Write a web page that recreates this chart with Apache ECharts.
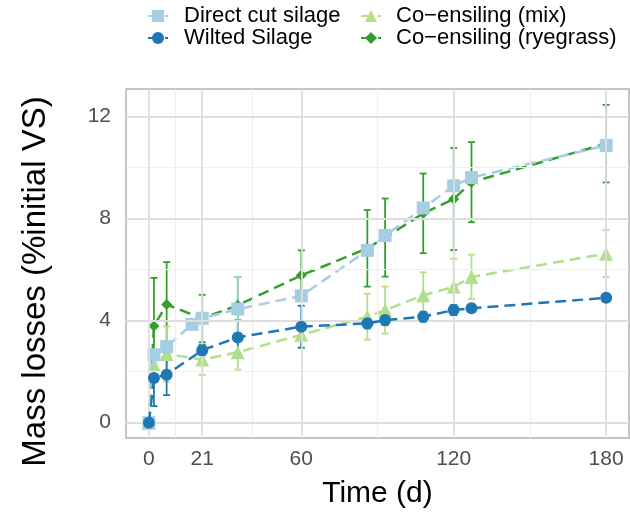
<!DOCTYPE html>
<html><head><meta charset="utf-8">
<script src="https://cdn.jsdelivr.net/npm/echarts@6/dist/echarts.min.js"></script>
<style>html,body{margin:0;padding:0;background:#fff}#c{width:630px;height:514px}</style>
</head><body><div id="c"></div>
<script>
// ---- data ----
const xBreaks = [0, 21, 60, 120, 180];
const xMinor = [10.5, 40.5, 90, 150];
const yBreaks = [0, 4, 8, 12];
const yMinor = [2, 6, 10];

const nameDirect = 'Direct cut silage';
const nameWilted = 'Wilted Silage';
const nameMix = 'Co\u2212ensiling (mix)';
const nameRye = 'Co\u2212ensiling (ryegrass)';

const directTime = [0, 2, 7, 17, 21, 35, 60, 86, 93, 108, 120, 127, 180];
const directVal  = [0, 2.66, 2.98, 3.85, 4.09, 4.45, 4.97, 6.75, 7.33, 8.41, 9.28, 9.6, 10.86];
const directErr  = [0, 0.2, 0.2, 0, 0.15, 1.25, 0.2, 0.2, 0.2, 0.2, 0.2, 0.2, 0.2];

const otherTime = [0, 2, 7, 21, 35, 60, 86, 93, 108, 120, 127, 180];

const wiltedVal = [0, 1.75, 1.88, 2.84, 3.34, 3.76, 3.89, 4.02, 4.15, 4.41, 4.48, 4.89];
const wiltedErr = [0, 1.1, 0.8, 0.2, 0.67, 0.82, 0.2, 0.2, 0.2, 0.2, 0.15, 0.15];

const mixVal = [0, 2.27, 2.69, 2.47, 2.76, 3.44, 4.15, 4.41, 4.99, 5.32, 5.71, 6.62];
const mixErr = [0, 0.4, 1.08, 0.6, 0.68, 0.52, 0.9, 0.92, 0.9, 1.1, 0.87, 0.92];

const ryeVal = [0, 3.79, 4.63, 4.08, 4.6, 5.77, 6.83, 7.25, 8.2, 8.76, 9.42, 10.93];
const ryeErr = [0, 1.88, 1.66, 0.93, 1.1, 0.98, 1.5, 1.53, 1.56, 2.0, 1.57, 1.52];

// ---- styling ----
const FONT = "'Liberation Sans', Arial, sans-serif";
const cDirect = '#A6CEE3', cWilted = '#1F78B4', cMix = '#B2DF8A', cRye = '#33A02C';

function pts(t, v) { return t.map((x, i) => [x, v[i]]); }
function errPts(t, v, e) { return t.map((x, i) => [x, v[i], e[i]]); }

function errSeries(name, t, v, e, color) {
  return {
    type: 'custom', name: name + ' err', z: 1, silent: true,
    data: errPts(t, v, e),
    encode: { x: 0, y: 1 },
    renderItem: function (params, api) {
      const x = api.value(0), y = api.value(1), er = api.value(2);
      if (!er) return { type: 'group', children: [] };
      const top = api.coord([x, y + er]), bot = api.coord([x, y - er]);
      const w = 3.5;
      const style = { stroke: color, lineWidth: 1.8 };
      return { type: 'group', children: [
        { type: 'line', shape: { x1: top[0], y1: top[1], x2: bot[0], y2: bot[1] }, style: style },
        { type: 'line', shape: { x1: top[0] - w, y1: top[1], x2: top[0] + w, y2: top[1] }, style: style },
        { type: 'line', shape: { x1: bot[0] - w, y1: bot[1], x2: bot[0] + w, y2: bot[1] }, style: style }
      ]};
    }
  };
}

function lineSeries(name, t, v, color, symbol, size, z) {
  return {
    type: 'line', name: name, z: z,
    data: pts(t, v),
    symbol: symbol, symbolSize: size, showAllSymbol: true,
    itemStyle: { color: color, opacity: 1 },
    lineStyle: { color: color, width: 2.5, type: [11, 6] },
    emphasis: { disabled: true }
  };
}

const gridLines = [];
xMinor.forEach(v => gridLines.push({ xAxis: v, lineStyle: { color: '#EEEEEE', width: 1.2, type: 'solid' } }));
yMinor.forEach(v => gridLines.push({ yAxis: v, lineStyle: { color: '#EEEEEE', width: 1.2, type: 'solid' } }));
xBreaks.forEach(v => gridLines.push({ xAxis: v, lineStyle: { color: '#DEDEDE', width: 1.8, type: 'solid' } }));
yBreaks.forEach(v => gridLines.push({ yAxis: v, lineStyle: { color: '#DEDEDE', width: 1.8, type: 'solid' } }));

function legendAt(name, left, top, padLeft) {
  return {
    data: [name], left: left, top: top, padding: 0, orient: 'horizontal',
    itemWidth: 20, itemHeight: 15, selectedMode: false,
    textStyle: { fontFamily: FONT, fontSize: 22, color: '#000', padding: [0, 0, 0, padLeft] }
  };
}

const chart = echarts.init(document.getElementById('c'), null, { renderer: 'canvas' });
chart.setOption({
  animation: false,
  backgroundColor: '#fff',
  grid: { left: 126, right: 1, top: 89, bottom: 75, show: true, borderColor: '#B3B3B3', borderWidth: 1.5, backgroundColor: 'transparent' },
  legend: [
    legendAt(nameDirect, 147, 5, 11),
    legendAt(nameWilted, 147, 27, 11),
    legendAt(nameMix, 360, 5, 10),
    legendAt(nameRye, 360, 27, 10)
  ],
  xAxis: {
    type: 'value', min: -9, max: 189,
    name: 'Time (d)', nameLocation: 'middle', nameGap: 41,
    nameTextStyle: { fontFamily: FONT, fontSize: 30, color: '#000' },
    axisLine: { show: false },
    axisTick: { show: true, customValues: xBreaks, length: 5, lineStyle: { color: '#B3B3B3', width: 1.5 } },
    axisLabel: { customValues: xBreaks, fontFamily: FONT, fontSize: 21, color: '#4D4D4D', margin: 11 },
    splitLine: { show: false }
  },
  yAxis: {
    type: 'value', min: -0.6, max: 13.07,
    name: 'Mass losses (%initial VS)', nameLocation: 'middle', nameGap: 74, nameRotate: 90,
    nameTextStyle: { fontFamily: FONT, fontSize: 33, color: '#000', padding: [0, 36, 0, 0] },
    axisLine: { show: false },
    axisTick: { show: true, customValues: yBreaks, length: 5, lineStyle: { color: '#B3B3B3', width: 1.5 } },
    axisLabel: { customValues: yBreaks, fontFamily: FONT, fontSize: 21, color: '#4D4D4D', margin: 15 },
    splitLine: { show: false }
  },
  series: [
    { type: 'line', name: 'grid', data: [], z: 0, silent: true,
      markLine: { silent: true, symbol: 'none', label: { show: false }, animation: false, data: gridLines } },
    errSeries(nameRye, otherTime, ryeVal, ryeErr, cRye),
    errSeries(nameMix, otherTime, mixVal, mixErr, cMix),
    errSeries(nameWilted, otherTime, wiltedVal, wiltedErr, cWilted),
    errSeries(nameDirect, directTime, directVal, directErr, cDirect),
    lineSeries(nameRye, otherTime, ryeVal, cRye, 'diamond', 11, 2),
    lineSeries(nameMix, otherTime, mixVal, cMix, 'triangle', 14, 3),
    lineSeries(nameDirect, directTime, directVal, cDirect, 'rect', 13, 4),
    lineSeries(nameWilted, otherTime, wiltedVal, cWilted, 'circle', 12, 5)
  ]
});
</script>
</body></html>
